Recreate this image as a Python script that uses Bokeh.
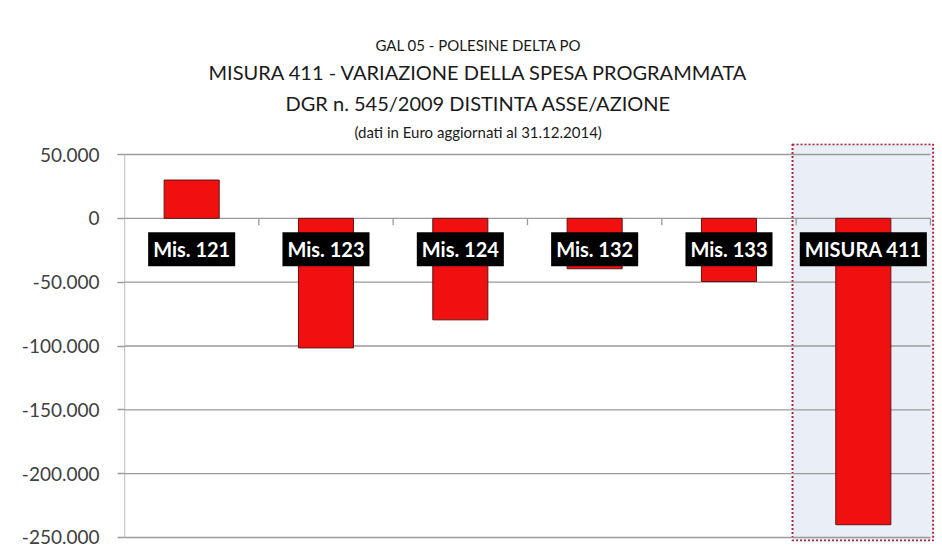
from bokeh.plotting import figure
from bokeh.models import Range1d, FixedTicker, Title, ColumnDataSource
from bokeh.core.properties import value
from bokeh.embed import file_html
from bokeh.resources import INLINE

# ---- data ----
categories = ["Mis. 121", "Mis. 123", "Mis. 124", "Mis. 132", "Mis. 133", "MISURA 411"]
values = [30000, -101500, -79500, -39500, -49500, -240000]
y_ticks = [50000, 0, -50000, -100000, -150000, -200000, -250000]
y_tick_labels = ["50.000", "0", "-50.000", "-100.000", "-150.000", "-200.000", "-250.000"]
title_lines = [
    "GAL 05 - POLESINE DELTA   PO",
    "MISURA 411 - VARIAZIONE DELLA  SPESA PROGRAMMATA",
    "DGR n. 545/2009   DISTINTA ASSE/AZIONE",
    "(dati in Euro aggiornati  al 31.12.2014)",
]
highlight_index = 5

# ---- layout constants ----
FONT = "Lato"
W, H = 942, 560
n = len(categories)
y_min, y_max = min(y_ticks), max(y_ticks)
ystart = y_min - 3135
yend = y_max + 8620

p = figure(width=W, height=H, output_backend="svg", toolbar_location=None,
           x_range=Range1d(0, n + 0.03), y_range=Range1d(ystart, yend),
           min_border_left=124, min_border_right=8, min_border_top=143, min_border_bottom=19)
p.outline_line_color = None
p.xaxis.visible = False
p.xgrid.visible = False
p.ygrid.visible = False
p.background_fill_color = "white"

# highlight box behind the total bar
p.quad(left=[highlight_index - 0.027], right=[n + 0.02],
       top=[y_max + 8000], bottom=[y_min - 2350],
       fill_color="#e9eef7", line_color="#b02438", line_width=2, line_dash="2 2")

# horizontal gridlines from axis to right end
p.segment(x0=[0] * len(y_ticks), x1=[n] * len(y_ticks), y0=y_ticks, y1=y_ticks,
          line_color="#9a9a9a", line_width=1.3)
# left axis line
p.segment(x0=[0], x1=[0], y0=[y_min], y1=[y_max], line_color="#9a9a9a", line_width=1.3)
# category boundary ticks on the zero line
p.segment(x0=list(range(1, n + 1)), x1=list(range(1, n + 1)), y0=[0] * n, y1=[-5500] * n,
          line_color="#9a9a9a", line_width=1.3)

xs = [i + 0.5 for i in range(n)]
src = ColumnDataSource(dict(x=xs, top=values, bottom=[0] * n, cat=categories,
                            ly=[-24300] * n))
p.vbar(x="x", top="top", bottom="bottom", width=0.41, source=src,
       fill_color="#f01010", line_color="#5e1515", line_width=1)

p.text(x="x", y="ly", text="cat", source=src, text_align="center", text_baseline="middle",
       text_font=value(FONT), text_font_style="bold", text_font_size="20px",
       text_color="white", background_fill_color="black", padding=5)

# y axis
ax = p.yaxis[0]
ax.ticker = FixedTicker(ticks=y_ticks)
ax.major_label_overrides = {t: l for t, l in zip(y_ticks, y_tick_labels)}
ax.axis_line_color = None
ax.major_tick_line_color = "#9a9a9a"
ax.major_tick_line_width = 1.3
ax.major_tick_out = 7
ax.major_tick_in = 0
ax.minor_tick_line_color = None
ax.major_label_text_font = FONT
ax.major_label_text_font_size = "19px"
ax.major_label_text_color = "#404040"
ax.major_label_standoff = 18

# titles, stacked above the frame (last added is topmost); left-aligned with offsets
sizes = ["15px", "20px", "20px", "15px"]
offsets = [251, 84, 161, 230]
standoffs = [6, 3, 6, 6]
for txt, fs, off, so in reversed(list(zip(title_lines, sizes, offsets, standoffs))):
    p.add_layout(Title(text=txt, align="left", offset=off, standoff=so,
                       text_font=FONT, text_font_size=fs, text_font_style="normal",
                       text_color="#1a1a1a"), "above")

open("out.html", "w").write(file_html(p, INLINE))
